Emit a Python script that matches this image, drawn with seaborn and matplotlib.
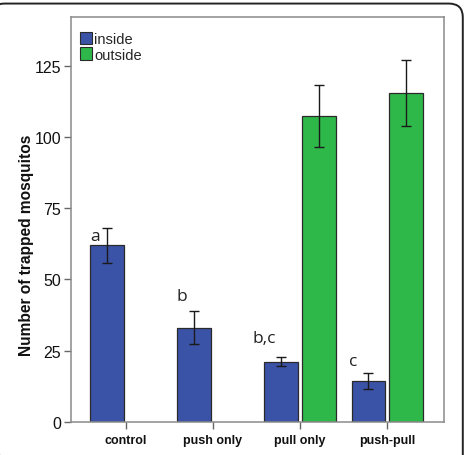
import matplotlib
matplotlib.use("Agg")
import matplotlib.pyplot as plt
import seaborn as sns
import pandas as pd
import numpy as np
from matplotlib.patches import FancyBboxPatch, Patch

categories = ["control", "push only", "pull only", "push-pull"]
inside_mean = [62.1, 33.0, 21.2, 14.3]
inside_lo = [55.8, 27.4, 19.8, 11.6]
inside_hi = [68.1, 38.9, 22.7, 17.2]
outside_mean = [np.nan, np.nan, 107.2, 115.5]
outside_lo = [np.nan, np.nan, 96.3, 103.8]
outside_hi = [np.nan, np.nan, 118.2, 127.0]
groups = ["inside", "outside"]
sig_letters = ["a", "b", "b,c", "c"]
letter_y = [65.3, 44.3, 29.5, 21.4]
yticks = [0, 25, 50, 75, 100, 125]

blue = "#3B53A6"
green = "#2FB84A"

sns.set_theme(style="white")
plt.rcParams["font.family"] = ["Liberation Sans", "DejaVu Sans"]

df = pd.DataFrame({
    "cat": categories * 2,
    "grp": ["inside"] * 4 + ["outside"] * 4,
    "val": inside_mean + outside_mean,
})
df = df.dropna()

fig = plt.figure(figsize=(4.67, 4.56), dpi=100)
ax = fig.add_axes([0.152, 0.0724, 0.799, 0.888])

sns.barplot(data=df, x="cat", y="val", hue="grp", order=categories,
            hue_order=groups, palette=[blue, green], saturation=1,
            width=0.86, gap=0.1, errorbar=None, edgecolor="#2a2a2a",
            linewidth=0.9, ax=ax, legend=False)

means = {"inside": (inside_mean, inside_lo, inside_hi),
         "outside": (outside_mean, outside_lo, outside_hi)}
for container, g in zip(ax.containers, groups):
    m, lo, hi = means[g]
    vals = np.array([v for v in m if not np.isnan(v)])
    los = np.array([v for v in lo if not np.isnan(v)])
    his = np.array([v for v in hi if not np.isnan(v)])
    xs = [p.get_x() + p.get_width() / 2 for p in container]
    ax.errorbar(xs, vals, yerr=[vals - los, his - vals],
                fmt="none", ecolor="#1a1a1a", elinewidth=1.0, capsize=3.3,
                capthick=1.0, zorder=5)

xpos = ax.get_xticks()
letter_dx = [-0.35, -0.36, -0.41, -0.39]
for i, (lab, yv) in enumerate(zip(sig_letters, letter_y)):
    ax.text(xpos[i] + letter_dx[i], yv, lab, ha="center", va="center", fontsize=12.5,
            family=["Open Sans", "DejaVu Sans"], color="#222222")

ax.set_xlim(-0.63, 3.655)
ax.set_ylim(0, 142)
ax.set_yticks(yticks)
ax.set_yticklabels([str(t) for t in yticks], fontsize=11.5, color="#111111")
ax.set_xticks(range(len(categories)))
ax.set_xticklabels(categories, fontsize=9, fontweight="bold", color="#111111")
ax.set_xlabel("")
ax.set_ylabel("Number of trapped mosquitos", fontsize=11.2, fontweight="bold",
              color="#111111")
ax.yaxis.set_label_coords(-0.1, 0.44)

for s in ax.spines.values():
    s.set_color("#8a8a8a")
    s.set_linewidth(1.1)
ax.tick_params(axis="both", which="major", direction="out", length=5, width=1,
               color="#666666", left=True, bottom=True, pad=2)
ax.tick_params(axis="x", pad=4)

handles = [Patch(facecolor=blue, edgecolor="#2a2a2a", linewidth=0.8),
           Patch(facecolor=green, edgecolor="#2a2a2a", linewidth=0.8)]
ax.legend(handles, groups, loc="upper left", bbox_to_anchor=(0.0, 0.985),
          frameon=False, handlelength=0.85, handleheight=0.9, handletextpad=0.15,
          labelspacing=0.1, fontsize=10.5, borderaxespad=0.2)

frame = FancyBboxPatch((-0.02, -0.05), 1.011, 1.04, transform=fig.transFigure,
                       boxstyle="round,pad=0,rounding_size=0.03", facecolor="none",
                       edgecolor="#222222", linewidth=1.4, clip_on=False)
fig.patches.append(frame)

fig.savefig("out.png", dpi=100)
